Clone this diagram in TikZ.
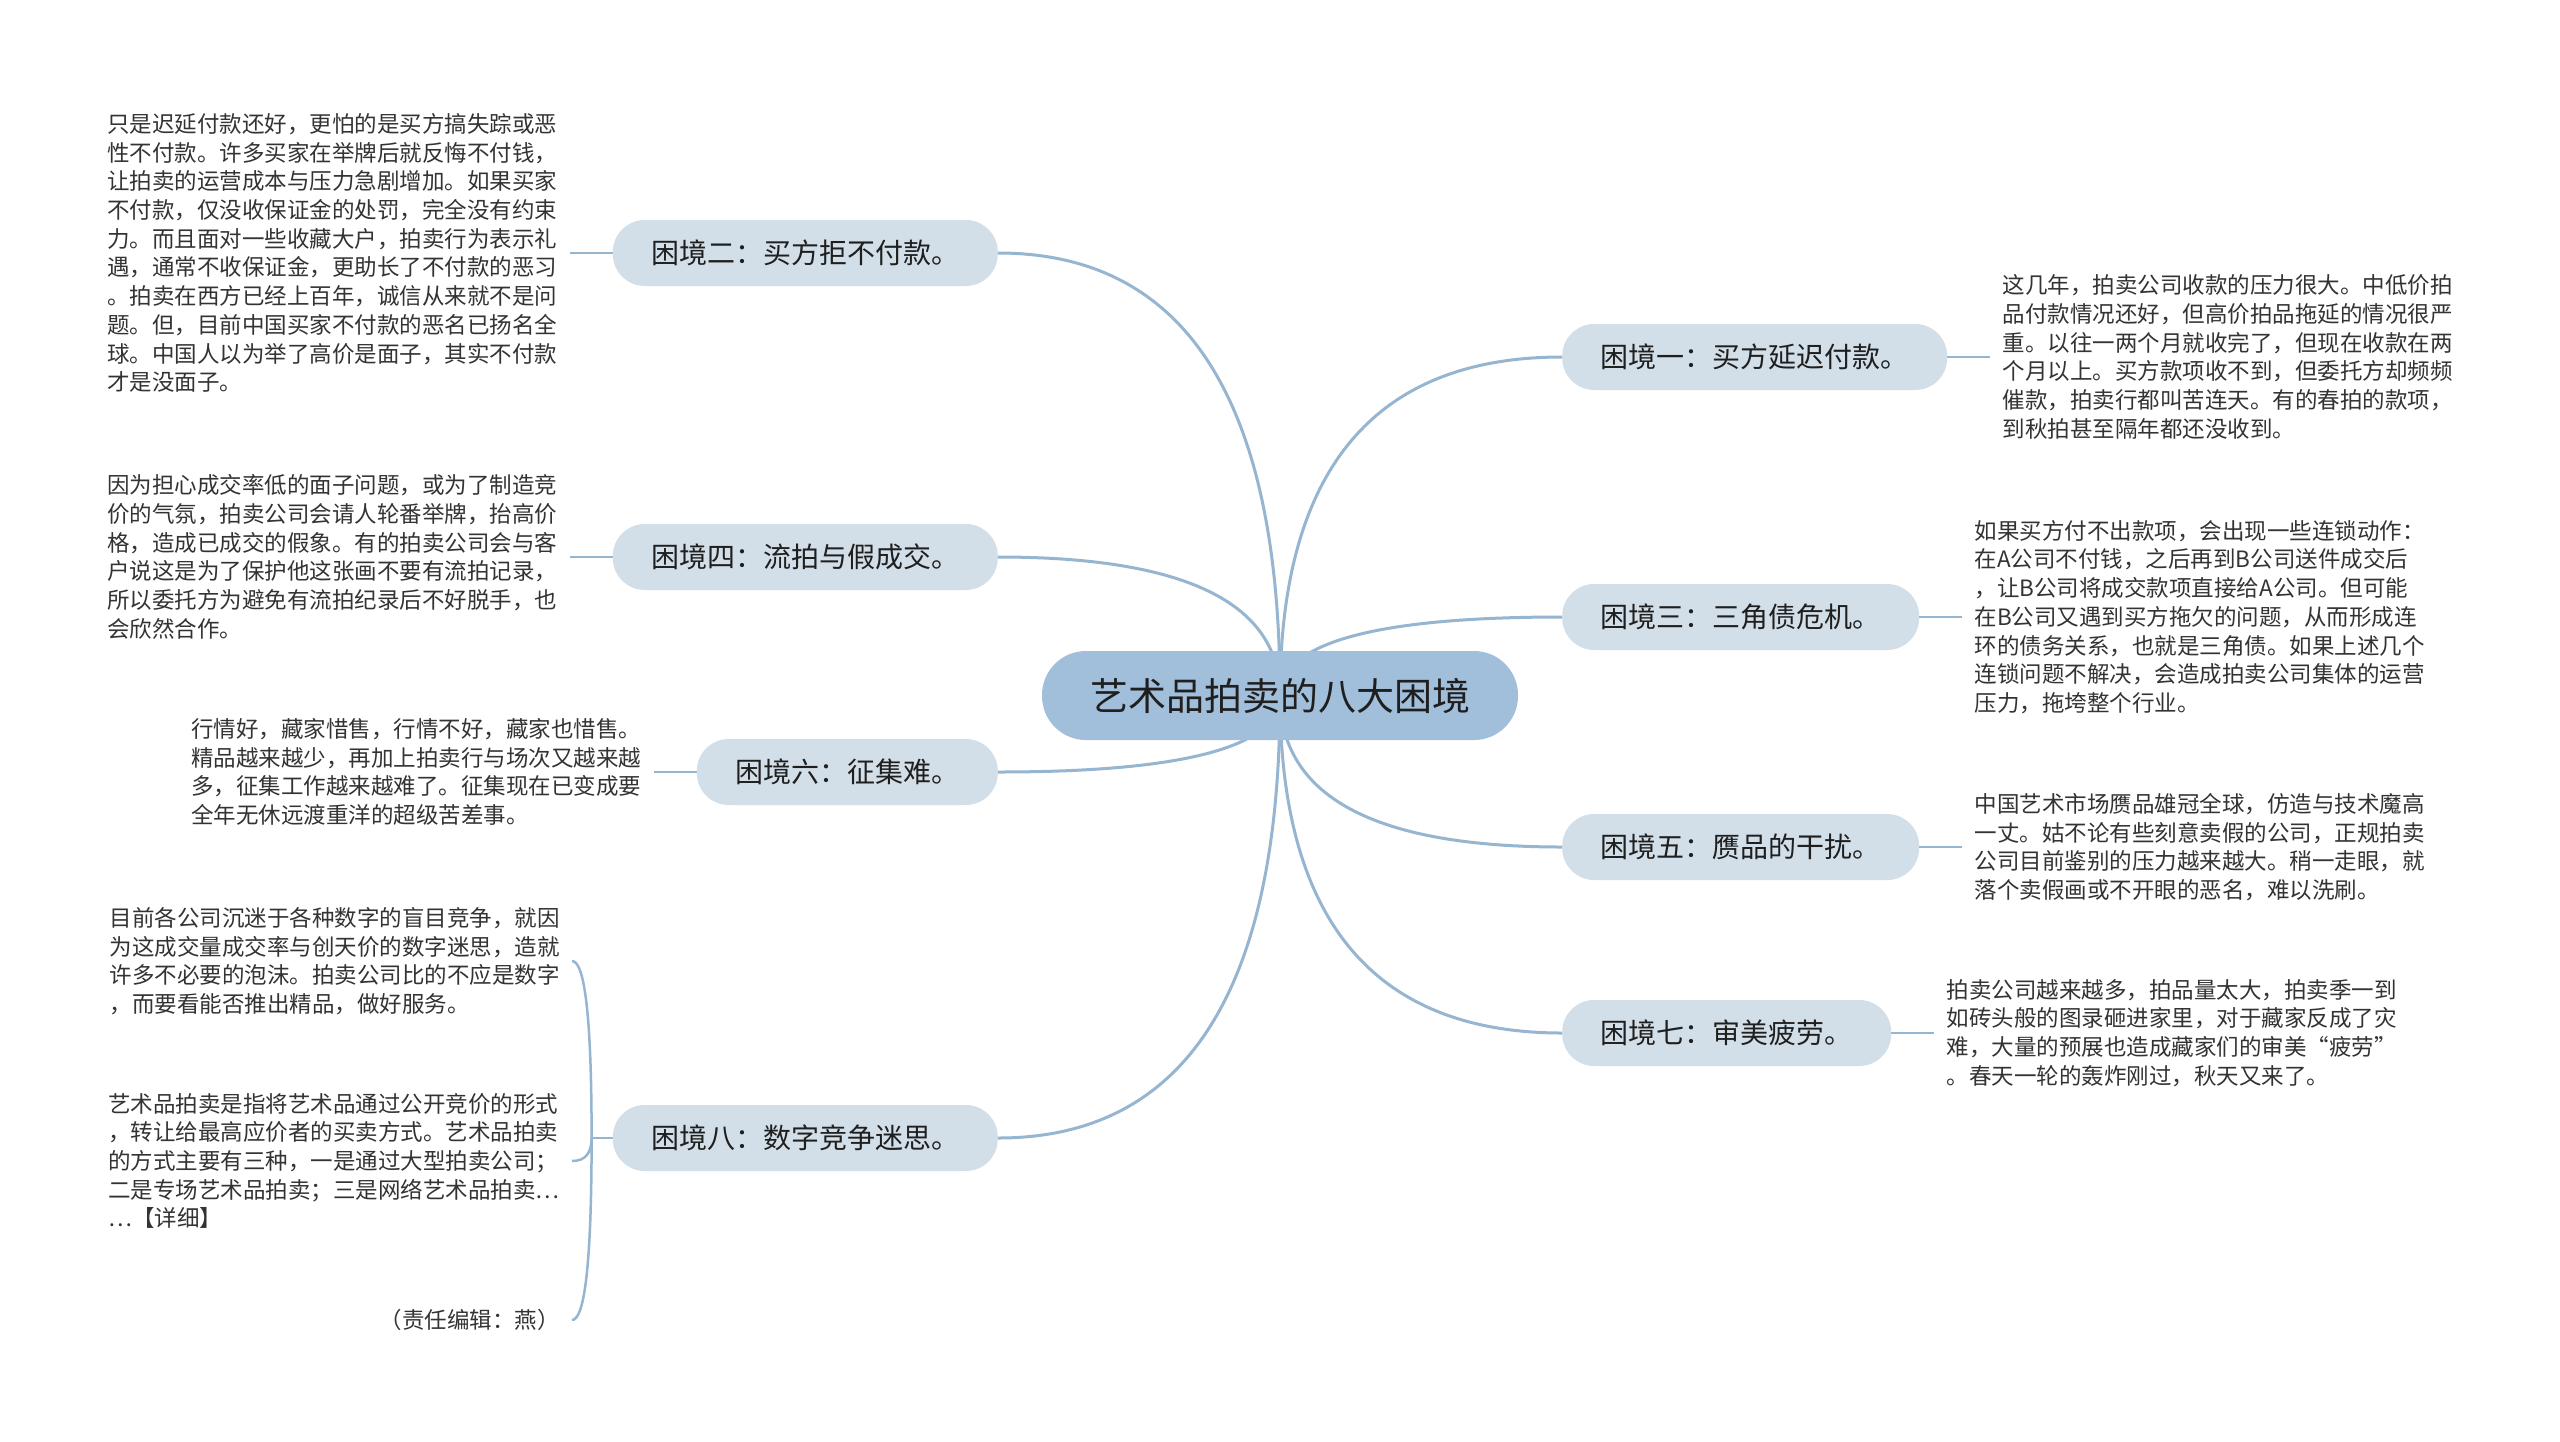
\documentclass[tikz,border=0pt]{standalone}
\usepackage{fontspec}
\setmainfont{Noto Sans CJK SC}
\usetikzlibrary{positioning,calc,backgrounds}
\definecolor{hubblue}{RGB}{161,190,218}
\definecolor{topicgray}{RGB}{211,223,232}
\definecolor{linkblue}{RGB}{150,181,208}
\definecolor{inkgray}{RGB}{51,51,51}
\begin{document}
\begin{tikzpicture}[x=1pt,y=1pt,
  theme/.style={fill=hubblue,rounded corners=44pt,minimum height=89pt,
    inner xsep=48pt,inner ysep=0pt,text=black!88,font=\fontsize{38}{44}\selectfont},
  topic/.style={fill=topicgray,rounded corners=32pt,minimum height=66pt,
    inner xsep=38.5pt,inner ysep=0pt,text=black!88,font=\fontsize{28}{34}\selectfont},
  note/.style={align=left,inner xsep=12pt,inner ysep=4pt,text=inkgray,
    font=\fontsize{22.5}{28.7}\selectfont},
  link/.style={draw=linkblue,line width=3pt},
  twig/.style={draw=linkblue,line width=2.5pt},
  bough/.style={to path={.. controls ($(\tikztostart)!2/3!(\tikztostart |- \tikztotarget)$)
    and ($(\tikztotarget)!2/3!(\tikztostart |- \tikztotarget)$) .. (\tikztotarget)}}]
  \useasboundingbox (0,0) rectangle (2560,-1441);
  % centre
  \node[theme] (hub) at (1280,-695.5) {艺术品拍卖的八大困境};
  % right side
  \node[topic,anchor=west] (b1) at (1562,-357) {困境一：买方延迟付款。};
  \node[topic,anchor=west] (b3) at (1562,-617) {困境三：三角债危机。};
  \node[topic,anchor=west] (b5) at (1562,-847) {困境五：赝品的干扰。};
  \node[topic,anchor=west] (b7) at (1562,-1033) {困境七：审美疲劳。};
  % left side
  \node[topic,anchor=east] (b2) at (998,-253) {困境二：买方拒不付款。};
  \node[topic,anchor=east] (b4) at (998,-557) {困境四：流拍与假成交。};
  \node[topic,anchor=east] (b6) at (998,-772) {困境六：征集难。};
  \node[topic,anchor=east] (b8) at (998,-1138) {困境八：数字竞争迷思。};

  \node[note,right=43pt of b1] (t1) {这几年，拍卖公司收款的压力很大。中低价拍\\
    品付款情况还好，但高价拍品拖延的情况很严\\
    重。以往一两个月就收完了，但现在收款在两\\
    个月以上。买方款项收不到，但委托方却频频\\
    催款，拍卖行都叫苦连天。有的春拍的款项，\\
    到秋拍甚至隔年都还没收到。};
  \node[note,right=43pt of b3] (t3) {如果买方付不出款项，会出现一些连锁动作：\\
    在A公司不付钱，之后再到B公司送件成交后\\
    ，让B公司将成交款项直接给A公司。但可能\\
    在B公司又遇到买方拖欠的问题，从而形成连\\
    环的债务关系，也就是三角债。如果上述几个\\
    连锁问题不解决，会造成拍卖公司集体的运营\\
    压力，拖垮整个行业。};
  \node[note,right=43pt of b5] (t5) {中国艺术市场赝品雄冠全球，仿造与技术魔高\\
    一丈。姑不论有些刻意卖假的公司，正规拍卖\\
    公司目前鉴别的压力越来越大。稍一走眼，就\\
    落个卖假画或不开眼的恶名，难以洗刷。};
  \node[note,right=43pt of b7] (t7) {拍卖公司越来越多，拍品量太大，拍卖季一到\\
    如砖头般的图录砸进家里，对于藏家反成了灾\\
    难，大量的预展也造成藏家们的审美“疲劳”\\
    。春天一轮的轰炸刚过，秋天又来了。};

  \node[note,left=43pt of b2] (t2) {只是迟延付款还好，更怕的是买方搞失踪或恶\\
    性不付款。许多买家在举牌后就反悔不付钱，\\
    让拍卖的运营成本与压力急剧增加。如果买家\\
    不付款，仅没收保证金的处罚，完全没有约束\\
    力。而且面对一些收藏大户，拍卖行为表示礼\\
    遇，通常不收保证金，更助长了不付款的恶习\\
    。拍卖在西方已经上百年，诚信从来就不是问\\
    题。但，目前中国买家不付款的恶名已扬名全\\
    球。中国人以为举了高价是面子，其实不付款\\
    才是没面子。};
  \node[note,left=43pt of b4] (t4) {因为担心成交率低的面子问题，或为了制造竞\\
    价的气氛，拍卖公司会请人轮番举牌，抬高价\\
    格，造成已成交的假象。有的拍卖公司会与客\\
    户说这是为了保护他这张画不要有流拍记录，\\
    所以委托方为避免有流拍纪录后不好脱手，也\\
    会欣然合作。};
  \node[note,left=43pt of b6] (t6) {行情好，藏家惜售，行情不好，藏家也惜售。\\
    精品越来越少，再加上拍卖行与场次又越来越\\
    多，征集工作越来越难了。征集现在已变成要\\
    全年无休远渡重洋的超级苦差事。};

  \coordinate[left=21pt of b8] (j8);
  \node[note,anchor=east] (t8a) at (572,-961) {目前各公司沉迷于各种数字的盲目竞争，就因\\
    为这成交量成交率与创天价的数字迷思，造就\\
    许多不必要的泡沫。拍卖公司比的不应是数字\\
    ，而要看能否推出精品，做好服务。};
  \node[note,anchor=east] (t8b) at (572,-1161) {艺术品拍卖是指将艺术品通过公开竞价的形式\\
    ，转让给最高应价者的买卖方式。艺术品拍卖\\
    的方式主要有三种，一是通过大型拍卖公司；\\
    二是专场艺术品拍卖；三是网络艺术品拍卖…\\
    …【详细】};
  \node[note,anchor=east] (t8c) at (572,-1320) {（责任编辑：燕）};

  \begin{scope}[on background layer]
    \fill[white] (0,0) rectangle (2560,-1441);
    \draw[link] (hub.center) to[bough] (b1.west);
    \draw[link] (hub.center) to[bough] (b3.west);
    \draw[link] (hub.center) to[bough] (b5.west);
    \draw[link] (hub.center) to[bough] (b7.west);
    \draw[link] (hub.center) to[bough] (b2.east);
    \draw[link] (hub.center) to[bough] (b4.east);
    \draw[link] (hub.center) to[bough] (b6.east);
    \draw[link] (hub.center) to[bough] (b8.east);
    % details
    \draw[twig] (b1.east) -- (t1.west);
    \draw[twig] (b3.east) -- (t3.west);
    \draw[twig] (b5.east) -- (t5.west);
    \draw[twig] (b7.east) -- (t7.west);
    \draw[twig] (b2.west) -- (t2.east);
    \draw[twig] (b4.west) -- (t4.east);
    \draw[twig] (b6.west) -- (t6.east);
    \draw[twig] (b8.west) -- (j8);
    \draw[twig] (j8) to[bough] (t8a.east);
    \draw[twig] (j8) to[bough] (t8b.east);
    \draw[twig] (j8) to[bough] (t8c.east);
  \end{scope}
\end{tikzpicture}
\end{document}
